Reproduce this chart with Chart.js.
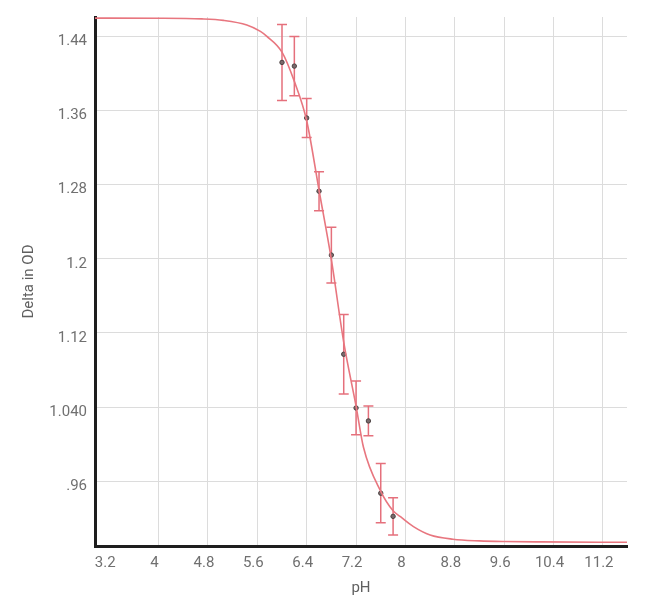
<!DOCTYPE html>
<html>
<head>
<meta charset="utf-8">
<script src="https://cdn.jsdelivr.net/npm/chart.js@4/dist/chart.umd.min.js"></script>
<style>
  html, body { margin: 0; padding: 0; background: #fff; }
  canvas { display: block; }
</style>
</head>
<body>
<canvas id="phChart" width="650" height="607"></canvas>
<script>
// measured points (mean +/- error)
const phValues = [6.0, 6.2, 6.4, 6.6, 6.8, 7.0, 7.2, 7.4, 7.6, 7.8];
const odMeans = [1.412, 1.408, 1.352, 1.273, 1.204, 1.097, 1.039, 1.025, 0.947, 0.922];
const odErrors = [0.041, 0.032, 0.021, 0.021, 0.030, 0.043, 0.029, 0.016, 0.032, 0.020];

// fitted curve
const curvePh = [2.97, 4.0, 4.7, 5.05, 5.43, 5.65, 5.75, 6.0, 6.2, 6.4, 6.6, 6.8, 7.0, 7.2, 7.32, 7.6, 7.8, 7.92, 8.13, 8.4, 8.77, 9.2, 9.6, 10.2, 11.59];
const curveOd = [1.4598, 1.4597, 1.459, 1.4574, 1.4524, 1.4455, 1.4404, 1.4231, 1.3915, 1.349, 1.274, 1.199, 1.11, 1.041, 0.9966, 0.949, 0.928, 0.9216, 0.9109, 0.9019, 0.8973, 0.8955, 0.8948, 0.8944, 0.894];

// axis ticks
const xTicks = [3.2, 4, 4.8, 5.6, 6.4, 7.2, 8, 8.8, 9.6, 10.4, 11.2];
const yTicks = [1.44, 1.36, 1.28, 1.2, 1.12, 1.04, 0.96];
const yTickLabels = ["1.44", "1.36", "1.28", "1.2", "1.12", "1.040", ".96"];

const errorBars = {
  id: "errorBars",
  beforeDatasetsDraw(chart) {
    const { ctx, scales: { x, y } } = chart;
    ctx.save();
    ctx.strokeStyle = "#e5707c";
    ctx.lineWidth = 1.5;
    phValues.forEach((ph, i) => {
      const px = x.getPixelForValue(ph);
      const top = y.getPixelForValue(odMeans[i] + odErrors[i]);
      const bot = y.getPixelForValue(odMeans[i] - odErrors[i]);
      ctx.beginPath();
      ctx.moveTo(px, top); ctx.lineTo(px, bot);
      ctx.moveTo(px - 5, top); ctx.lineTo(px + 5, top);
      ctx.moveTo(px - 5, bot); ctx.lineTo(px + 5, bot);
      ctx.stroke();
    });
    ctx.restore();
  }
};

const tickFont = { family: "Roboto", size: 15 };

new Chart(document.getElementById("phChart"), {
  type: "scatter",
  data: {
    datasets: [
      {
        label: "fit",
        data: curvePh.map((v, i) => ({ x: v, y: curveOd[i] })),
        showLine: true,
        cubicInterpolationMode: "monotone",
        borderColor: "#e8767f",
        borderWidth: 1.6,
        pointRadius: 0,
      },
      {
        label: "data",
        data: phValues.map((v, i) => ({ x: v, y: odMeans[i] })),
        pointRadius: 2.2,
        backgroundColor: "#7a6a6c",
        borderColor: "#4a4040",
        borderWidth: 1,
      },
    ],
  },
  options: {
    responsive: false,
    animation: false,
    layout: { padding: { top: 16, right: 23, left: 0, bottom: 0 } },
    plugins: { legend: { display: false }, tooltip: { enabled: false } },
    scales: {
      x: {
        type: "linear",
        min: 2.97,
        max: 11.59,
        afterFit: (s) => { s.height = 61; },
        afterBuildTicks: (s) => { s.ticks = xTicks.map((v) => ({ value: v })); },
        border: { color: "#1e1e1e", width: 3 },
        grid: {
          drawTicks: false,
          color: (c) => (c.index === 0 ? "rgba(0,0,0,0)" : "#dcdcdc"),
        },
        ticks: {
          padding: 8,
          labelOffset: -4,
          color: "#707070",
          font: tickFont,
          maxRotation: 0,
          autoSkip: false,
          callback: (v) => String(v),
        },
        title: {
          display: true,
          text: "pH",
          color: "#606060",
          font: tickFont,
          padding: { top: 0, bottom: 10 },
        },
      },
      y: {
        type: "linear",
        min: 0.89,
        max: 1.461,
        afterFit: (s) => { s.width = 95; },
        afterBuildTicks: (s) => { s.ticks = yTicks.map((v) => ({ value: v })); },
        border: { color: "#1e1e1e", width: 3 },
        grid: { drawTicks: false, color: "#dcdcdc" },
        ticks: {
          padding: 8,
          labelOffset: 5,
          color: "#707070",
          font: tickFont,
          autoSkip: false,
          callback: (v, i) => yTickLabels[i],
        },
        title: {
          display: true,
          text: "Delta in OD",
          color: "#606060",
          font: tickFont,
          padding: { top: 20, bottom: 4 },
        },
      },
    },
  },
  plugins: [errorBars],
});
</script>
</body>
</html>
